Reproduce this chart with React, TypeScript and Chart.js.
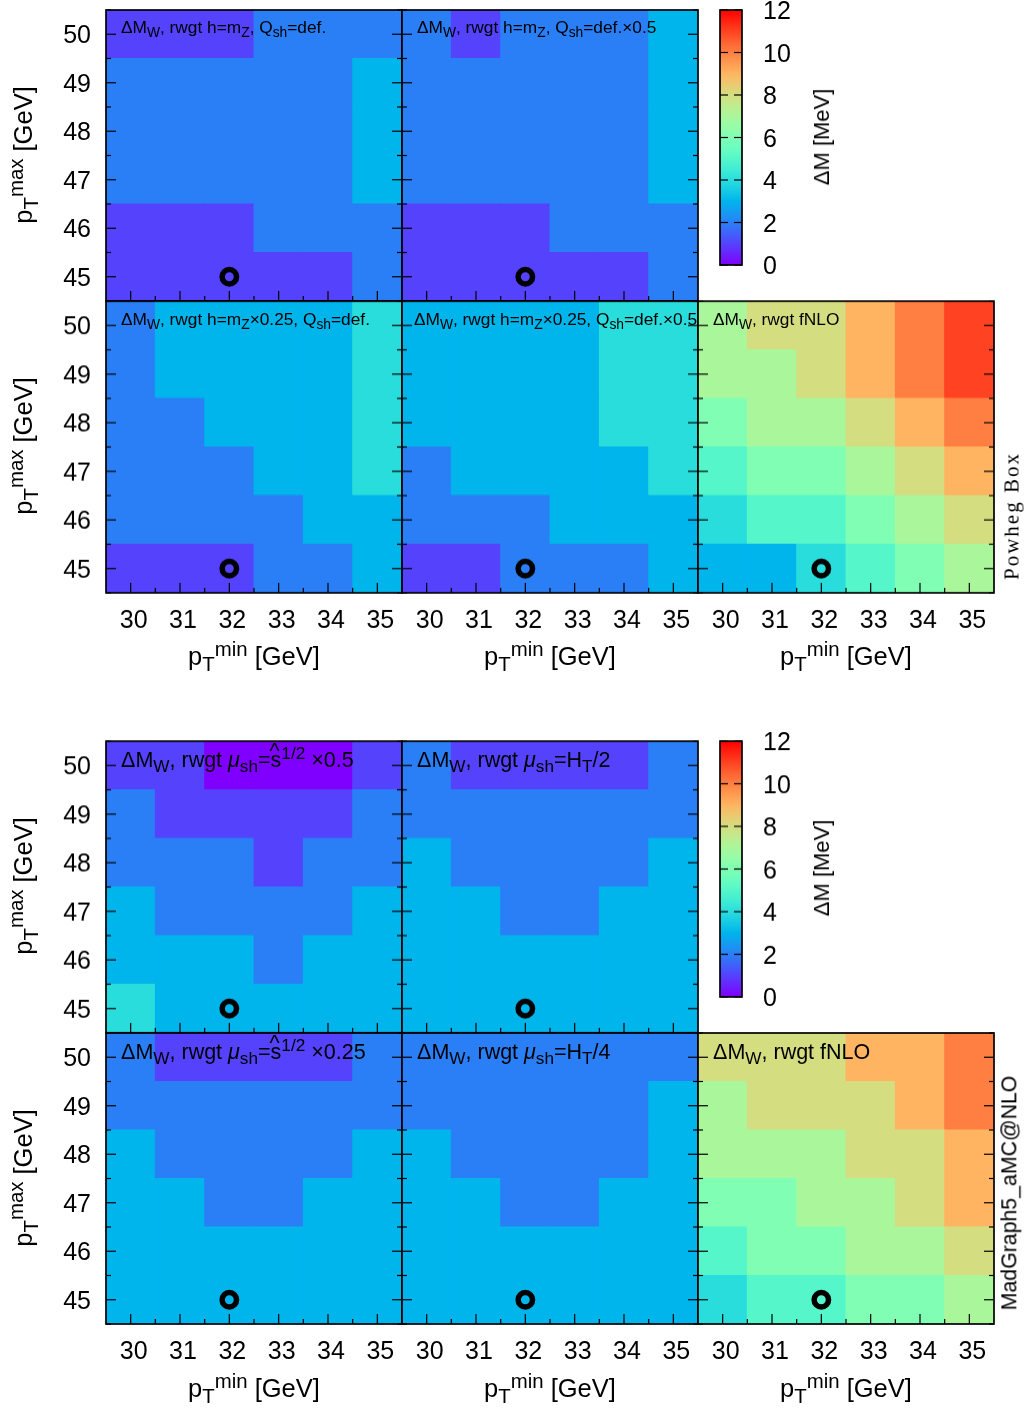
import React, { useEffect, useRef } from 'react';
import { Chart, registerables } from 'chart.js';

Chart.register(...registerables);

// bins of the heatmaps
const ptMin = ['30', '31', '32', '33', '34', '35'];
const ptMax = [50, 49, 48, 47, 46, 45];
const barTicks = [0, 2, 4, 6, 8, 10, 12];

// delta M values per panel, one row per ptMax (50 down to 45)
const powhegZ = [[1, 1, 1, 2, 2, 2], [2, 2, 2, 2, 2, 3], [2, 2, 2, 2, 2, 3], [2, 2, 2, 2, 2, 3], [1, 1, 1, 2, 2, 2], [1, 1, 1, 1, 1, 2]];
const powhegZHalf = [[2, 1, 2, 2, 2, 3], [2, 2, 2, 2, 2, 3], [2, 2, 2, 2, 2, 3], [2, 2, 2, 2, 2, 3], [1, 1, 1, 2, 2, 2], [1, 1, 1, 1, 1, 2]];
const powhegQuarter = [[2, 3, 3, 3, 3, 4], [2, 3, 3, 3, 3, 4], [2, 2, 3, 3, 3, 4], [2, 2, 2, 3, 3, 4], [2, 2, 2, 2, 3, 3], [1, 1, 1, 2, 2, 3]];
const powhegQuarterHalf = [[3, 3, 3, 3, 4, 4], [3, 3, 3, 3, 4, 4], [3, 3, 3, 3, 4, 4], [2, 3, 3, 3, 3, 4], [2, 2, 2, 3, 3, 3], [1, 1, 2, 2, 2, 3]];
const powhegFnlo = [[7, 8, 8, 9, 10, 11], [7, 7, 8, 9, 10, 11], [6, 7, 7, 8, 9, 10], [5, 6, 6, 7, 8, 9], [4, 5, 5, 6, 7, 8], [3, 3, 4, 5, 6, 7]];
const mgShat = [[1, 1, 0, 0, 0, 1], [2, 1, 1, 1, 1, 2], [2, 2, 2, 1, 2, 2], [3, 2, 2, 2, 2, 3], [3, 3, 3, 2, 3, 3], [4, 3, 3, 3, 3, 3]];
const mgHt2 = [[2, 1, 1, 1, 1, 2], [2, 2, 2, 2, 2, 2], [3, 2, 2, 2, 2, 3], [3, 3, 2, 2, 3, 3], [3, 3, 3, 3, 3, 3], [3, 3, 3, 3, 3, 3]];
const mgShatQuarter = [[2, 1, 1, 1, 1, 2], [2, 2, 2, 2, 2, 2], [3, 2, 2, 2, 2, 3], [3, 3, 2, 2, 3, 3], [3, 3, 3, 3, 3, 3], [3, 3, 3, 3, 3, 3]];
const mgHt4 = [[2, 2, 2, 2, 2, 2], [2, 2, 2, 2, 2, 3], [3, 2, 2, 2, 2, 3], [3, 3, 2, 2, 3, 3], [3, 3, 3, 3, 3, 3], [3, 3, 3, 3, 3, 3]];
const mgFnlo = [[8, 8, 8, 9, 9, 10], [7, 8, 8, 8, 9, 10], [7, 7, 7, 8, 8, 9], [6, 6, 7, 7, 8, 9], [5, 6, 6, 7, 7, 8], [4, 5, 5, 6, 6, 7]];

const FONT = '"Liberation Sans", Arial, sans-serif';
const TICK_SIZE = 25;
const PAD = 70; // room around the plot area inside each canvas

// same as the "rainbow" palette
const rainbow = (t: number) => {
  const r = Math.abs(2 * t - 0.5);
  const g = Math.sin(Math.PI * t);
  const b = Math.cos((Math.PI * t) / 2);
  const c = (v: number) => Math.round(Math.min(1, v) * 255);
  return `rgb(${c(r)},${c(g)},${c(b)})`;
};

// inward ticks + frame, gnuplot style
const framePlugin = {
  id: 'frame',
  afterDatasetsDraw(chart: any) {
    const { ctx, chartArea: a, scales } = chart;
    const isBar = chart.options.plugins.frame?.colorbar;
    ctx.save();
    ctx.strokeStyle = '#000';
    ctx.lineWidth = 1.2;
    const line = (x0: number, y0: number, x1: number, y1: number) => {
      ctx.beginPath();
      ctx.moveTo(x0, y0);
      ctx.lineTo(x1, y1);
      ctx.stroke();
    };
    const yTicks = scales.y.ticks.map((t: any) => scales.y.getPixelForValue(t.value));
    if (isBar) {
      yTicks.forEach((p: number) => {
        line(a.left, p, a.left + 8, p);
        line(a.right - 8, p, a.right, p);
      });
    } else {
      yTicks.forEach((p: number, i: number) => {
        line(a.left, p, a.left + 10, p);
        line(a.right - 10, p, a.right, p);
        const step = i > 0 ? yTicks[i - 1] : p + (p - yTicks[i + 1]);
        const m = (p + step) / 2;
        line(a.left, m, a.left + 5, m);
        line(a.right - 5, m, a.right, m);
      });
      const m0 = yTicks[yTicks.length - 1] + (yTicks[yTicks.length - 1] - yTicks[yTicks.length - 2]) / 2;
      line(a.left, m0, a.left + 5, m0);
      line(a.right - 5, m0, a.right, m0);
      const xTicks = scales.x.ticks.map((_: any, i: number) => scales.x.getPixelForTick(i));
      xTicks.forEach((p: number, i: number) => {
        line(p, a.bottom, p, a.bottom - 10);
        if (i > 0) {
          const m = (p + xTicks[i - 1]) / 2;
          line(m, a.bottom, m, a.bottom - 5);
        }
      });
    }
    ctx.lineWidth = 1.7;
    ctx.strokeRect(a.left, a.top, a.right - a.left, a.bottom - a.top);
    ctx.restore();
  },
};

type HeatProps = { values: number[][]; left: number; top: number; xLabels?: boolean; yLabels?: boolean };

const Heatmap: React.FC<HeatProps> = ({ values, left, top, xLabels, yLabels }) => {
  const ref = useRef<HTMLCanvasElement>(null);
  const W = 296;
  const H = 291.5;

  useEffect(() => {
    if (!ref.current) return;
    const rows = ptMax.map((y, r) => ({
      type: 'bar' as const,
      data: ptMin.map(() => [y - 0.5, y + 0.5]),
      backgroundColor: values[r].map((v) => rainbow(v / 12)),
      borderWidth: 0,
      inflateAmount: 0.45,
      grouped: false,
      barPercentage: 1,
      categoryPercentage: 1,
      order: 1,
    }));
    rows.reverse(); // lower rows paint last, keeps the row edges where they are in the reference
    const chart = new Chart(ref.current, {
      data: {
        labels: ptMin,
        datasets: [
          ...rows,
          {
            type: 'scatter' as const,
            data: [{ x: '32', y: 45 }],
            pointRadius: 7.2,
            pointBorderWidth: 5.5,
            pointBorderColor: '#000',
            pointBackgroundColor: 'rgba(0,0,0,0)',
            order: 0,
          },
        ] as any,
      },
      options: {
        animation: false,
        responsive: false,
        events: [],
        layout: { padding: { top: PAD, right: PAD, left: 0, bottom: 0 } },
        plugins: { legend: { display: false }, tooltip: { enabled: false } },
        scales: {
          x: {
            type: 'category',
            offset: true,
            grid: { display: false, drawTicks: false },
            border: { display: false },
            afterFit: (s: any) => { s.height = PAD; },
            ticks: {
              display: !!xLabels,
              color: '#000',
              padding: 13,
              labelOffset: 3,
              maxRotation: 0,
              autoSkip: false,
              font: { family: FONT, size: TICK_SIZE },
            },
          },
          y: {
            type: 'linear',
            min: 44.5,
            max: 50.5,
            grid: { display: false, drawTicks: false },
            border: { display: false },
            afterFit: (s: any) => { s.width = PAD; },
            afterBuildTicks: (s: any) => { s.ticks = ptMax.map((value) => ({ value })); },
            ticks: {
              display: !!yLabels,
              color: '#000',
              padding: 15,
              labelOffset: 2,
              font: { family: FONT, size: TICK_SIZE },
            },
          },
        },
      } as any,
      plugins: [framePlugin],
    });
    return () => chart.destroy();
  }, [values, xLabels, yLabels]);

  return (
    <canvas
      ref={ref}
      width={W + 2 * PAD}
      height={H + 2 * PAD}
      style={{ position: 'absolute', left: left - PAD, top: top - PAD, width: W + 2 * PAD, height: H + 2 * PAD }}
    />
  );
};

const ColorBar: React.FC<{ left: number; top: number }> = ({ left, top }) => {
  const ref = useRef<HTMLCanvasElement>(null);
  const W = 22;
  const H = 255.5;

  useEffect(() => {
    if (!ref.current) return;
    const chart = new Chart(ref.current, {
      type: 'bar',
      data: {
        labels: ['dM'],
        datasets: [
          {
            data: [[barTicks[0], barTicks[barTicks.length - 1]]],
            borderWidth: 0,
            barPercentage: 1,
            categoryPercentage: 1,
            backgroundColor: (c: any) => {
              const { ctx, chartArea } = c.chart;
              if (!chartArea) return '#000';
              const g = ctx.createLinearGradient(0, chartArea.bottom, 0, chartArea.top);
              for (let i = 0; i <= 48; i++) g.addColorStop(i / 48, rainbow(i / 48));
              return g;
            },
          },
        ] as any,
      },
      options: {
        animation: false,
        responsive: false,
        events: [],
        layout: { padding: { top: 20, bottom: 20, left: 10, right: 0 } },
        plugins: { legend: { display: false }, tooltip: { enabled: false }, frame: { colorbar: true } },
        scales: {
          x: { display: false },
          y: {
            position: 'right',
            min: barTicks[0],
            max: barTicks[barTicks.length - 1],
            grid: { display: false, drawTicks: false },
            border: { display: false },
            afterFit: (s: any) => {
              s.width = PAD;
              s.paddingTop = 0;
              s.paddingBottom = 0;
            },
            ticks: {
              stepSize: 2,
              color: '#000',
              padding: 21,
              labelOffset: 2.5,
              font: { family: FONT, size: TICK_SIZE },
            },
          },
        },
      } as any,
      plugins: [framePlugin],
    });
    return () => chart.destroy();
  }, []);

  return (
    <canvas
      ref={ref}
      width={W + 10 + PAD}
      height={H + 40}
      style={{ position: 'absolute', left: left - 10, top: top - 20, width: W + 10 + PAD, height: H + 40 }}
    />
  );
};

const Sub: React.FC<{ children: React.ReactNode }> = ({ children }) => (
  <span style={{ fontSize: '0.8em', position: 'relative', top: '0.3em' }}>{children}</span>
);
const Sup: React.FC<{ children: React.ReactNode }> = ({ children }) => (
  <span style={{ fontSize: '0.8em', position: 'relative', top: '-0.45em' }}>{children}</span>
);

// text placed by its centre or left edge, optionally turned to read upwards
const Label: React.FC<{ x: number; y: number; size: number; rotate?: boolean; family?: string; spacing?: number; children: React.ReactNode }> = ({
  x, y, size, rotate, family, spacing, children,
}) => (
  <div
    style={{
      position: 'absolute',
      left: x,
      top: y,
      fontFamily: family || FONT,
      fontSize: size,
      letterSpacing: spacing,
      lineHeight: 1,
      whiteSpace: 'nowrap',
      color: '#000',
      transform: rotate ? 'translate(-50%,-50%) rotate(-90deg)' : 'translateY(-50%)',
    }}
  >
    {children}
  </div>
);

const PtMinTitle: React.FC<{ x: number; y: number }> = ({ x, y }) => (
  <div style={{ position: 'absolute', left: x, top: y, transform: 'translate(-50%,-50%)', fontFamily: FONT, fontSize: 25.5, lineHeight: 1, whiteSpace: 'nowrap' }}>
    p<Sub>T</Sub><Sup>min</Sup> [GeV]
  </div>
);
const PtMaxTitle: React.FC<{ y: number }> = ({ y }) => (
  <Label x={24} y={y} size={25.5} rotate>
    p<Sub>T</Sub><Sup>max</Sup> [GeV]
  </Label>
);

const colX = [106, 402, 698];
const rowY = [9.5, 301, 741, 1032.5];

const dM = <>{'\u0394'}M<Sub>W</Sub></>;
const mu = <i>{'\u03bc'}</i>;
const shat = (
  <span style={{ position: 'relative' }}>
    s
    <span style={{ position: 'absolute', left: -1, top: '-0.32em' }}>^</span>
  </span>
);

export default function App() {
  return (
    <div style={{ position: 'absolute', left: 0, top: 0, width: 1024, height: 1410, overflow: 'hidden', background: '#fff' }}>
      <Heatmap values={powhegZ} left={colX[0]} top={rowY[0]} yLabels />
      <Heatmap values={powhegZHalf} left={colX[1]} top={rowY[0]} />
      <Heatmap values={powhegQuarter} left={colX[0]} top={rowY[1]} yLabels xLabels />
      <Heatmap values={powhegQuarterHalf} left={colX[1]} top={rowY[1]} xLabels />
      <Heatmap values={powhegFnlo} left={colX[2]} top={rowY[1]} xLabels />
      <ColorBar left={720} top={9.5} />

      <Heatmap values={mgShat} left={colX[0]} top={rowY[2]} yLabels />
      <Heatmap values={mgHt2} left={colX[1]} top={rowY[2]} />
      <Heatmap values={mgShatQuarter} left={colX[0]} top={rowY[3]} yLabels xLabels />
      <Heatmap values={mgHt4} left={colX[1]} top={rowY[3]} xLabels />
      <Heatmap values={mgFnlo} left={colX[2]} top={rowY[3]} xLabels />
      <ColorBar left={720} top={741} />

      <Label x={121} y={28} size={17.3}>{dM}, rwgt h=m<Sub>Z</Sub>, Q<Sub>sh</Sub>=def.</Label>
      <Label x={417} y={28} size={17.3}>{dM}, rwgt h=m<Sub>Z</Sub>, Q<Sub>sh</Sub>=def.×0.5</Label>
      <Label x={121} y={320} size={17.3}>{dM}, rwgt h=m<Sub>Z</Sub>×0.25, Q<Sub>sh</Sub>=def.</Label>
      <Label x={414} y={320} size={17.3}>{dM}, rwgt h=m<Sub>Z</Sub>×0.25, Q<Sub>sh</Sub>=def.×0.5</Label>
      <Label x={713} y={320} size={17.3}>{dM}, rwgt fNLO</Label>

      <Label x={121} y={760.5} size={21.5}>{dM}, rwgt {mu}<Sub>sh</Sub>={shat}<Sup>1/2</Sup> ×0.5</Label>
      <Label x={417} y={760.5} size={21.5}>{dM}, rwgt {mu}<Sub>sh</Sub>=H<Sub>T</Sub>/2</Label>
      <Label x={121} y={1052.5} size={21.5}>{dM}, rwgt {mu}<Sub>sh</Sub>={shat}<Sup>1/2</Sup> ×0.25</Label>
      <Label x={417} y={1052.5} size={21.5}>{dM}, rwgt {mu}<Sub>sh</Sub>=H<Sub>T</Sub>/4</Label>
      <Label x={713} y={1052.5} size={21.5}>{dM}, rwgt fNLO</Label>

      <PtMaxTitle y={155} />
      <PtMaxTitle y={446} />
      <PtMaxTitle y={886} />
      <PtMaxTitle y={1178} />
      {[254, 550, 846].map((x) => <PtMinTitle key={x} x={x} y={657} />)}
      {[254, 550, 846].map((x) => <PtMinTitle key={x} x={x} y={1389} />)}

      <Label x={822} y={137} size={22} rotate>{'\u0394'}M [MeV]</Label>
      <Label x={822} y={868} size={22} rotate>{'\u0394'}M [MeV]</Label>
      <Label x={1012} y={516} size={21} spacing={2} rotate family={'"Liberation Serif", serif'}>Powheg Box</Label>
      <Label x={1010} y={1193} size={21.3} rotate>MadGraph5_aMC@NLO</Label>
    </div>
  );
}
